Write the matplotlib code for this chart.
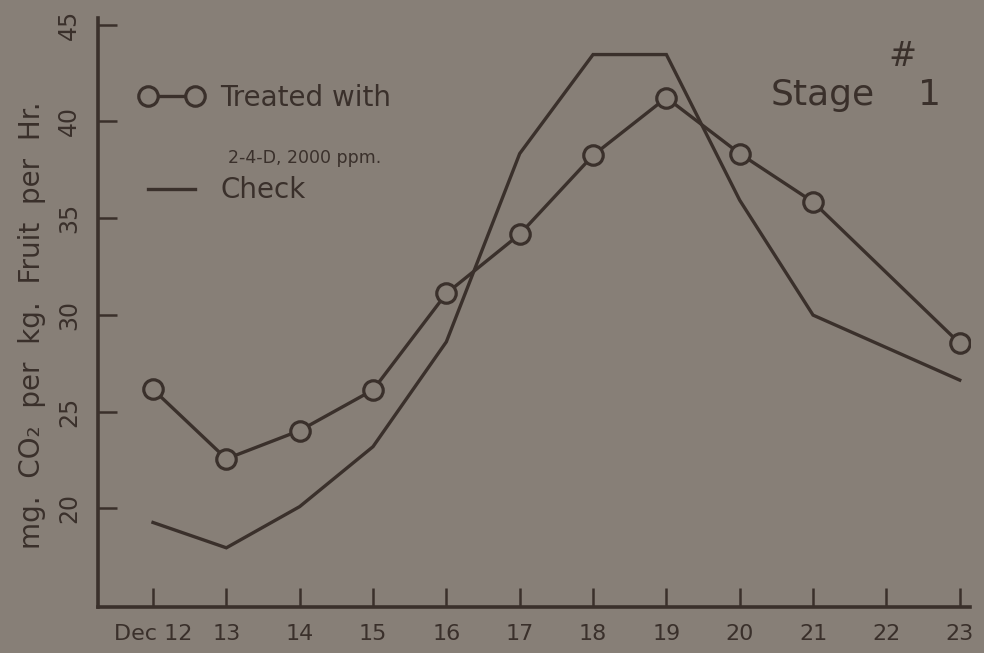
import matplotlib
matplotlib.use("Agg")
import matplotlib.pyplot as plt
from matplotlib.lines import Line2D

# ---- data ----
days_treated = [12, 13, 14, 15, 16, 17, 18, 19, 20, 21, 23]
treated = [26.15, 22.56, 24.02, 26.12, 31.11, 34.17, 38.25, 41.23, 38.34, 35.84, 28.53]
days_check = [12, 13, 14, 15, 16, 17, 18, 19, 20, 21, 23]
check = [19.27, 17.96, 20.09, 23.19, 28.61, 38.34, 43.46, 43.46, 35.93, 29.99, 26.63]
x_ticks = [12, 13, 14, 15, 16, 17, 18, 19, 20, 21, 22, 23]
x_labels = ["Dec 12", "13", "14", "15", "16", "17", "18", "19", "20", "21", "22", "23"]
y_ticks = [20, 25, 30, 35, 40, 45]

BG = "#877f77"
INK = "#3a302b"

plt.rcParams['font.family'] = ['DejaVu Sans']
fig = plt.figure(figsize=(9.84, 6.53), dpi=100, facecolor=BG)
ax = fig.add_axes([98/984, 1-607/653, 872/984, 589/653])
ax.set_facecolor(BG)

ax.plot(days_check, check, color=INK, lw=2.4, solid_joinstyle='miter')
ax.plot(days_treated, treated, color=INK, lw=2.4, marker='o', ms=14,
        mfc=BG, mec=INK, mew=2.3)

ax.set_xlim(11.25, 23.14)
ax.set_ylim(14.9, 45.35)

for s in ['top', 'right']:
    ax.spines[s].set_visible(False)
for s in ['left', 'bottom']:
    ax.spines[s].set_color(INK)
    ax.spines[s].set_linewidth(2.6)

ax.set_xticks(x_ticks)
ax.set_xticklabels(x_labels)
ax.set_yticks(y_ticks)
ax.set_yticklabels([str(v) for v in y_ticks], rotation=90, va='center')
ax.tick_params(axis='both', direction='in', length=14, width=1.8, color=INK,
               labelcolor=INK)
ax.tick_params(axis='x', pad=12, labelsize=16)
ax.tick_params(axis='y', pad=12, labelsize=17)

ax.set_ylabel("mg.  CO₂  per  kg.  Fruit  per  Hr.", fontsize=20, color=INK)
ax.yaxis.set_label_coords(-0.06, 0.479)

h1 = Line2D([], [], color=INK, lw=2.4, marker='o', ms=14, mfc=BG, mec=INK, mew=2.3)
h2 = Line2D([], [], color=INK, lw=2.4)
leg = ax.legend([h1, h2], ["Treated with", "Check"], loc='upper left',
                bbox_to_anchor=(0.048, 0.888), frameon=False, numpoints=2,
                handlelength=2.3, handletextpad=0.6, labelspacing=2.32,
                borderpad=0, borderaxespad=0, fontsize=20)
for t in leg.get_texts():
    t.set_color(INK)

ax.text(0.149, 0.762, "2-4-D, 2000 ppm.", transform=ax.transAxes, fontsize=12.5,
        color=INK, va='center', ha='left')
ax.text(0.771, 0.869, "Stage", transform=ax.transAxes, fontsize=26,
        color=INK, va='center', ha='left')
ax.text(0.923, 0.935, "#", transform=ax.transAxes, fontsize=24,
        color=INK, va='center', ha='center')
ax.text(0.954, 0.869, "1", transform=ax.transAxes, fontsize=26,
        color=INK, va='center', ha='center')

fig.savefig("out.png", dpi=100, facecolor=BG)
